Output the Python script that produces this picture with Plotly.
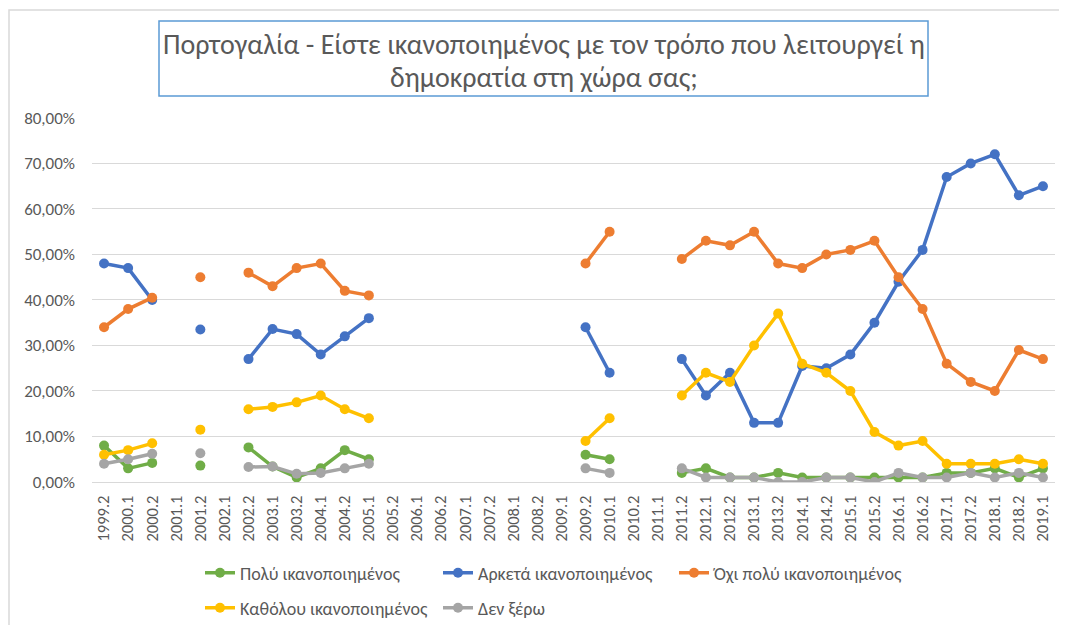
import plotly.graph_objects as go

categories = ["1999.2", "2000.1", "2000.2", "2001.1", "2001.2", "2002.1", "2002.2", "2003.1",
              "2003.2", "2004.1", "2004.2", "2005.1", "2005.2", "2006.1", "2006.2", "2007.1",
              "2007.2", "2008.1", "2008.2", "2009.1", "2009.2", "2010.1", "2010.2", "2011.1",
              "2011.2", "2012.1", "2012.2", "2013.1", "2013.2", "2014.1", "2014.2", "2015.1",
              "2015.2", "2016.1", "2016.2", "2017.1", "2017.2", "2018.1", "2018.2", "2019.1"]

N = None
poly = [8, 3, 4.2, N, 3.6, N, 7.6, 3.4, 1, 3, 7, 5, N, N, N, N, N, N, N, N,
        6, 5, N, N, 2, 3, 1, 1, 2, 1, 1, 1, 1, 1, 1, 2, 2, 3, 1, 3]
arketa = [48, 47, 40, N, 33.5, N, 27, 33.6, 32.5, 28, 32, 36, N, N, N, N, N, N, N, N,
          34, 24, N, N, 27, 19, 24, 13, 13, 25.5, 25, 28, 35, 44, 51, 67, 70, 72, 63, 65]
oxi = [34, 38, 40.5, N, 45, N, 46, 43, 47, 48, 42, 41, N, N, N, N, N, N, N, N,
       48, 55, N, N, 49, 53, 52, 55, 48, 47, 50, 51, 53, 45, 38, 26, 22, 20, 29, 27]
katholou = [6, 7, 8.5, N, 11.5, N, 16, 16.5, 17.5, 19, 16, 14, N, N, N, N, N, N, N, N,
            9, 14, N, N, 19, 24, 22, 30, 37, 26, 24, 20, 11, 8, 9, 4, 4, 4, 5, 4]
den_xero = [4, 5, 6.2, N, 6.3, N, 3.3, 3.4, 1.8, 2, 3, 4, N, N, N, N, N, N, N, N,
            3, 2, N, N, 3, 1, 1, 1, 0, 0, 1, 1, 0, 2, 1, 1, 2, 1, 2, 1]

series_names = ["Πολύ ικανοποιημένος", "Αρκετά ικανοποιημένος", "Όχι πολύ ικανοποιημένος",
                "Καθόλου ικανοποιημένος", "Δεν ξέρω"]
series_values = [poly, arketa, oxi, katholou, den_xero]
colors = ["#70AD47", "#4472C4", "#ED7D31", "#FFC000", "#A5A5A5"]

y_tick_values = [0, 10, 20, 30, 40, 50, 60, 70, 80]
y_tick_labels = ["0,00%", "10,00%", "20,00%", "30,00%", "40,00%", "50,00%", "60,00%",
                 "70,00%", "80,00%"]

title_line1 = "Πορτογαλία - Είστε ικανοποιημένος με τον τρόπο που λειτουργεί η"
title_line2 = "δημοκρατία στη χώρα σας;"

FONT = "Carlito, Calibri, Roboto, sans-serif"
TXT = "#595959"

# The page body has an 8px default margin, so figure pixels = page pixels - 8.
W, H = 1067, 625
L, T = 84, 109
PW, PH = 963, 365
R, B = W - L - PW, H - T - PH

def px_x(p):
    return (p - L) / PW

def px_y(p):
    return (T + PH - p) / PH

# legend positions (figure pixels): (left x, center y)
legend_pos = [(192, 565), (430, 565), (666, 565), (192, 600), (430, 600)]
legend_keys = ["legend", "legend2", "legend3", "legend4", "legend5"]

fig = go.Figure()
for name, vals, col, lk in zip(series_names, series_values, colors, legend_keys):
    fig.add_trace(go.Scatter(
        x=categories, y=vals, name=name, mode="lines+markers",
        line=dict(color=col, width=3.5),
        marker=dict(color=col, size=10),
        connectgaps=False, legend=lk,
    ))

layout_legends = {}
for lk, (lx, ly) in zip(legend_keys, legend_pos):
    layout_legends[lk] = dict(
        x=px_x(lx), y=px_y(ly), xanchor="left", yanchor="middle",
        orientation="h", font=dict(family=FONT, size=18, color=TXT),
        bgcolor="rgba(0,0,0,0)", borderwidth=0,
    )

fig.update_layout(
    template="none",
    width=W, height=H,
    margin=dict(l=L, r=R, t=T, b=B, autoexpand=False),
    paper_bgcolor="white", plot_bgcolor="white",
    separators=",.",
    showlegend=True,
    **layout_legends,
    xaxis=dict(
        type="category", categoryorder="array", categoryarray=categories,
        range=[-0.5, len(categories) - 0.5], automargin=False,
        tickangle=-90, tickfont=dict(family=FONT, size=16.5, color=TXT),
        showgrid=False, showline=True, linecolor="#D9D9D9", linewidth=1,
        ticks="", zeroline=False, ticklabelstandoff=6,
    ),
    yaxis=dict(
        range=[0, 80.2], tickvals=y_tick_values, ticktext=y_tick_labels,
        automargin=False,
        tickfont=dict(family=FONT, size=17, color=TXT),
        showgrid=True, gridcolor="#D9D9D9", gridwidth=1,
        zeroline=False, showline=False, ticks="", ticklabelstandoff=16,
    ),
    shapes=[
        dict(type="rect", xref="paper", yref="paper",
             x0=px_x(1), x1=px_x(1080), y0=px_y(2), y1=px_y(640),
             line=dict(color="#D9D9D9", width=1.5), fillcolor="rgba(0,0,0,0)", layer="below"),
        dict(type="rect", xref="paper", yref="paper",
             x0=px_x(151), x1=px_x(920), y0=px_y(13), y1=px_y(88),
             line=dict(color="#5B9BD5", width=1.5), fillcolor="white", layer="above"),
    ],
    annotations=[
        dict(text=title_line1, xref="paper", yref="paper", x=px_x(535.5), y=px_y(37),
             xanchor="center", yanchor="middle", showarrow=False,
             font=dict(family=FONT, size=28, color=TXT, weight=300)),
        dict(text=title_line2, xref="paper", yref="paper", x=px_x(535.5), y=px_y(69),
             xanchor="center", yanchor="middle", showarrow=False,
             font=dict(family=FONT, size=28, color=TXT, weight=300)),
    ],
)

fig.write_html("out.html")
